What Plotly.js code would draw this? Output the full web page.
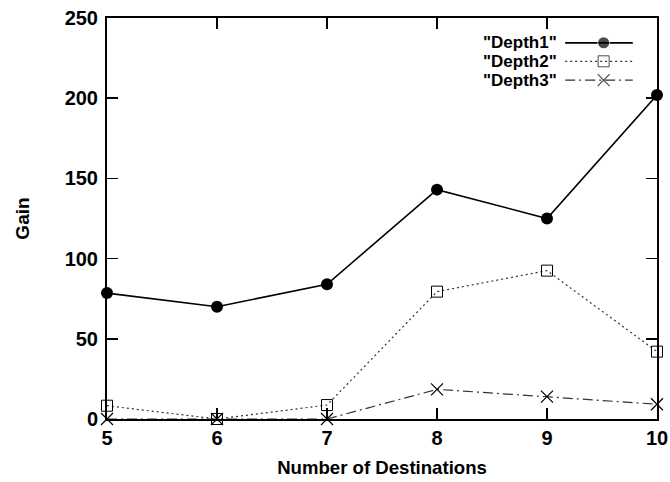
<!DOCTYPE html>
<html>
<head>
<meta charset="utf-8">
<script src="https://cdn.plot.ly/plotly-3.0.1.min.js"></script>
<style>html,body{margin:0;padding:0;background:#fff;}#chart{width:670px;height:482px;}</style>
</head>
<body>
<div id="chart"></div>
<script>
// ---- data ----
var destinations = [5, 6, 7, 8, 9, 10];
var depth1 = [78.5, 70, 84, 143, 125, 202];
var depth2 = [8.3, 0, 8.7, 79.4, 92.5, 42];
var depth3 = [0, 0, 0, 18.5, 13.9, 9.2];
var seriesNames = ['"Depth1"', '"Depth2"', '"Depth3"'];
var yTicks = [0, 50, 100, 150, 200, 250];
var xTitle = 'Number of Destinations';
var yTitle = 'Gain';

// ---- styles ----
var FONT = 'Liberation Sans, Arial, sans-serif';
var styles = [
  {line: {color: '#000', width: 1.6, dash: 'solid'}, marker: {symbol: 'circle', size: 12, color: '#000'}},
  {line: {color: '#333', width: 1.2, dash: '2px,3px'}, marker: {symbol: 'square-open', size: 11, color: '#000', line: {width: 1, color: '#000'}}},
  {line: {color: '#333', width: 1.2, dash: '10px,4px,2px,4px'}, marker: {symbol: 'x-thin-open', size: 12, color: '#000', line: {width: 1.2, color: '#000'}}}
];
var seriesValues = [depth1, depth2, depth3];

var traces = [];
seriesValues.forEach(function (vals, i) {
  traces.push({
    x: destinations, y: vals, type: 'scatter', mode: 'lines+markers',
    name: seriesNames[i], line: styles[i].line, marker: styles[i].marker,
    cliponaxis: false, showlegend: false, hoverinfo: 'skip'
  });
});

// legend samples (custom legend: text left of symbol, like gnuplot)
var legRowY = [0.938, 0.892, 0.845];
var legX0 = 0.833, legX1 = 0.956, legXm = 0.903, legTextX = 0.822;
var annotations = [];
seriesValues.forEach(function (vals, i) {
  traces.push({
    x: [legX0, legXm, legX1], y: [legRowY[i], legRowY[i], legRowY[i]],
    xaxis: 'x2', yaxis: 'y2', type: 'scatter', mode: 'lines+markers',
    line: styles[i].line,
    marker: Object.assign({}, styles[i].marker, {size: [0, styles[i].marker.size, 0]}),
    showlegend: false, hoverinfo: 'skip', cliponaxis: false
  });
  annotations.push({
    xref: 'paper', yref: 'paper', x: legTextX, y: legRowY[i],
    xanchor: 'right', yanchor: 'middle', showarrow: false,
    text: seriesNames[i], font: {family: FONT, size: 17, color: '#000', weight: 'bold'}
  });
});

var axisCommon = {
  showgrid: false, zeroline: false, showline: true, linecolor: '#000', linewidth: 2,
  mirror: 'ticks', ticks: 'inside', ticklen: 11, tickwidth: 1.6, tickcolor: '#000',
  tickfont: {family: FONT, size: 20, color: '#000', weight: 'bold'}
};

var layout = {
  width: 670, height: 482,
  margin: {l: 107, r: 13, t: 18, b: 63},
  paper_bgcolor: '#fff', plot_bgcolor: '#fff',
  showlegend: false,
  xaxis: Object.assign({}, axisCommon, {
    range: [5, 10], tickvals: destinations, ticktext: destinations.map(String),
    title: {text: xTitle, font: {family: FONT, size: 18.6, color: '#000', weight: 'bold'}, standoff: 13}
  }),
  yaxis: Object.assign({}, axisCommon, {
    range: [0, 250], tickvals: yTicks, ticktext: yTicks.map(String), ticklabelstandoff: 3,
    title: {text: yTitle, font: {family: FONT, size: 19, color: '#000', weight: 'bold'}, standoff: 30}
  }),
  xaxis2: {overlaying: 'x', range: [0, 1], visible: false, anchor: 'y2'},
  yaxis2: {overlaying: 'y', range: [0, 1], visible: false, anchor: 'x2'},
  annotations: annotations
};

Plotly.newPlot('chart', traces, layout, {staticPlot: true, displayModeBar: false});
</script>
</body>
</html>
